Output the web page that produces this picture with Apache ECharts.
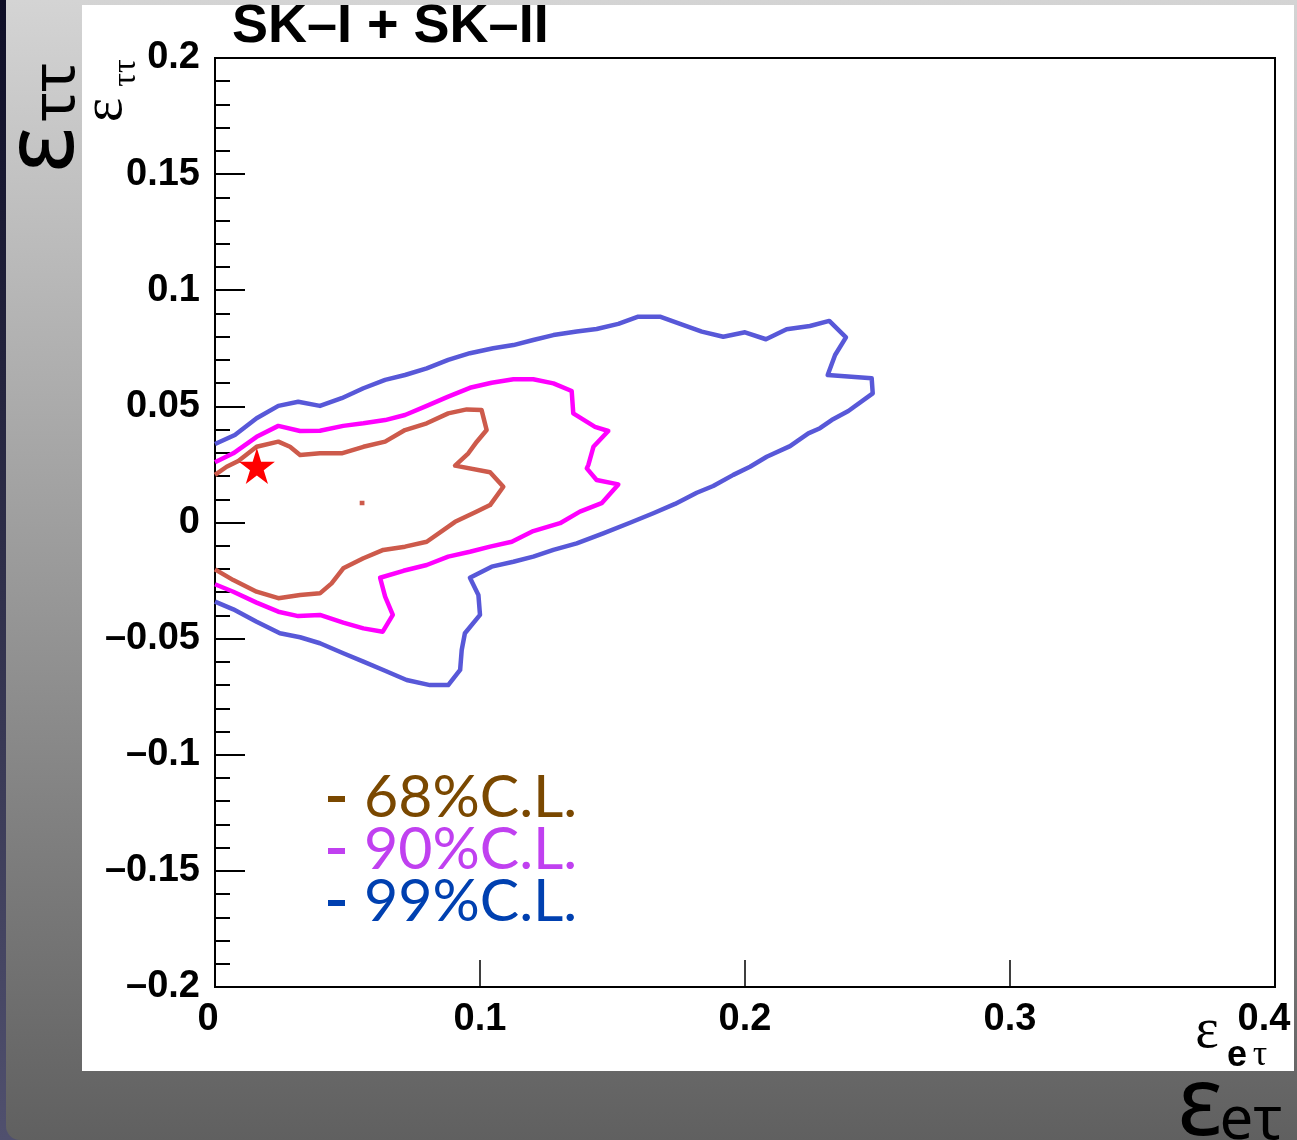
<!DOCTYPE html>
<html>
<head>
<meta charset="utf-8">
<script src="https://cdn.jsdelivr.net/npm/echarts@6/dist/echarts.min.js"></script>
<style>
  html, body { margin: 0; padding: 0; background: #fff; }
  #chart { width: 1297px; height: 1140px; }
</style>
</head>
<body>
<div id="chart"></div>
<script>
// Axis ticks and their printed labels
const xTickValues = [0, 0.1, 0.2, 0.3, 0.4];
const xTickLabels = ['0', '0.1', '0.2', '0.3', '0.4'];
const yTickValues = [-0.2, -0.15, -0.1, -0.05, 0, 0.05, 0.1, 0.15, 0.2];
const yTickLabels = ['\u20130.2', '\u20130.15', '\u20130.1', '\u20130.05', '0', '0.05', '0.1', '0.15', '0.2'];

// Allowed region in the (eps_etau, eps_tautau) plane, 99% C.L. contour
const contour99 = [
  [0.0000, 0.0338], [0.0075, 0.0377], [0.0157, 0.0449], [0.0239, 0.0502], [0.0314, 0.0520],
  [0.0396, 0.0502], [0.0478, 0.0535], [0.0560, 0.0578], [0.0642, 0.0614], [0.0717, 0.0635],
  [0.0799, 0.0664], [0.0880, 0.0700], [0.0962, 0.0729], [0.1050, 0.0750], [0.1126, 0.0764],
  [0.1201, 0.0786], [0.1277, 0.0807], [0.1365, 0.0822], [0.1440, 0.0833], [0.1522, 0.0855],
  [0.1597, 0.0886], [0.1679, 0.0886], [0.1755, 0.0855], [0.1837, 0.0822], [0.1918, 0.0800],
  [0.2000, 0.0819], [0.2079, 0.0789], [0.2157, 0.0832], [0.2245, 0.0846], [0.2318, 0.0868],
  [0.2381, 0.0797], [0.2340, 0.0721], [0.2312, 0.0635], [0.2478, 0.0621], [0.2482, 0.0556],
  [0.2390, 0.0480], [0.2327, 0.0441], [0.2283, 0.0406], [0.2239, 0.0384], [0.2170, 0.0329],
  [0.2082, 0.0283], [0.2019, 0.0240], [0.1956, 0.0205], [0.1880, 0.0157], [0.1818, 0.0128],
  [0.1736, 0.0080], [0.1654, 0.0040], [0.1566, -0.0001], [0.1465, -0.0047], [0.1365, -0.0090],
  [0.1277, -0.0118], [0.1201, -0.0147], [0.1126, -0.0169], [0.1044, -0.0190], [0.0962, -0.0238],
  [0.0994, -0.0312], [0.1000, -0.0398], [0.0943, -0.0477], [0.0931, -0.0549], [0.0925, -0.0635],
  [0.0880, -0.0700], [0.0811, -0.0700], [0.0723, -0.0678], [0.0635, -0.0635], [0.0560, -0.0599],
  [0.0484, -0.0563], [0.0396, -0.0520], [0.0321, -0.0494], [0.0245, -0.0477], [0.0157, -0.0427],
  [0.0069, -0.0374], [0.0000, -0.0341]
];

// 90% C.L. contour
const contour90 = [
  [0.0000, 0.0259], [0.0069, 0.0298], [0.0157, 0.0369], [0.0239, 0.0416], [0.0321, 0.0394],
  [0.0396, 0.0395], [0.0484, 0.0416], [0.0560, 0.0427], [0.0642, 0.0441], [0.0717, 0.0463],
  [0.0799, 0.0502], [0.0880, 0.0542], [0.0962, 0.0580], [0.1044, 0.0602], [0.1126, 0.0617],
  [0.1201, 0.0617], [0.1277, 0.0599], [0.1346, 0.0566], [0.1352, 0.0470], [0.1434, 0.0412],
  [0.1484, 0.0394], [0.1428, 0.0326], [0.1409, 0.0248], [0.1403, 0.0233], [0.1440, 0.0183],
  [0.1522, 0.0164], [0.1459, 0.0083], [0.1377, 0.0047], [0.1302, -0.0003], [0.1201, -0.0037],
  [0.1120, -0.0083], [0.1038, -0.0104], [0.0962, -0.0126], [0.0880, -0.0147], [0.0799, -0.0183],
  [0.0711, -0.0208], [0.0623, -0.0238], [0.0642, -0.0319], [0.0671, -0.0398], [0.0633, -0.0470],
  [0.0560, -0.0456], [0.0484, -0.0431], [0.0396, -0.0398], [0.0314, -0.0403], [0.0239, -0.0384],
  [0.0157, -0.0345], [0.0069, -0.0298], [0.0000, -0.0266]
];

// 68% C.L. contour
const contour68 = [
  [0.0000, 0.0205], [0.0044, 0.0240], [0.0088, 0.0265], [0.0157, 0.0326], [0.0239, 0.0348],
  [0.0283, 0.0326], [0.0321, 0.0291], [0.0396, 0.0298], [0.0478, 0.0298], [0.0560, 0.0326],
  [0.0642, 0.0348], [0.0717, 0.0398], [0.0799, 0.0427], [0.0880, 0.0470], [0.0950, 0.0487],
  [0.1006, 0.0484], [0.1025, 0.0398], [0.0988, 0.0348], [0.0956, 0.0298], [0.0906, 0.0245],
  [0.1038, 0.0216], [0.1088, 0.0154], [0.1038, 0.0075], [0.0988, 0.0047], [0.0906, 0.0003],
  [0.0799, -0.0083], [0.0717, -0.0104], [0.0635, -0.0118], [0.0560, -0.0154], [0.0484, -0.0197],
  [0.0440, -0.0262], [0.0396, -0.0305], [0.0321, -0.0312], [0.0239, -0.0326], [0.0157, -0.0298],
  [0.0069, -0.0248], [0.0000, -0.0202]
];

// Small isolated 68% island
const island68 = [[0.0546, 0.0084], [0.0564, 0.0084]];

// Best-fit point
const bestFit = [[0.0158, 0.0243]];

// Legend entries
const legendLabels = ['68%C.L.', '90%C.L.', '99%C.L.'];
const legendColors = ['#7a4800', '#c040f0', '#0040b0'];

const starPath = 'path://M50,0 L61.2,34.5 L97.6,34.5 L68.2,55.9 L79.4,90.5 L50,69.1 L20.6,90.5 L31.8,55.9 L2.4,34.5 L38.8,34.5 Z';

function labelFor(values, labels, v) {
  for (let i = 0; i < values.length; i++) {
    if (Math.abs(values[i] - v) < 1e-9) return labels[i];
  }
  return '';
}

const chart = echarts.init(document.getElementById('chart'), null, { renderer: 'canvas' });

const tickFont = { color: '#000', fontFamily: 'Liberation Sans, Arial, sans-serif', fontWeight: 'bold', fontSize: 38 };

const legendGraphics = [];
legendLabels.forEach((t, i) => {
  const y = 798 + i * 52;
  legendGraphics.push({
    type: 'rect', z: 10, silent: true,
    shape: { x: 328, y: y - 2, width: 17, height: 6 },
    style: { fill: legendColors[i] }
  });
  legendGraphics.push({
    type: 'text', x: 364, y: y, z: 10,
    style: { text: t, fill: legendColors[i], font: '59px Lato, "Noto Sans", sans-serif', verticalAlign: 'middle' }
  });
});

chart.setOption({
  animation: false,
  backgroundColor: '#ffffff',
  graphic: {
    elements: [
      { type: 'rect', z: -30, silent: true, shape: { x: 0, y: 0, width: 1297, height: 1140 },
        style: { fill: new echarts.graphic.LinearGradient(0, 0, 0, 1, [{ offset: 0, color: '#0e0e26' }, { offset: 1, color: '#50506e' }]) } },
      { type: 'rect', z: -29, silent: true, shape: { x: 6, y: 0, width: 1291, height: 1140, r: [0, 0, 0, 14] },
        style: { fill: new echarts.graphic.LinearGradient(0, 0, 0, 1, [{ offset: 0, color: '#d4d4d4' }, { offset: 1, color: '#606060' }]) } },
      { type: 'rect', z: -28, silent: true, shape: { x: 82, y: 5, width: 1212, height: 1066 }, style: { fill: '#ffffff' } },
      // title
      { type: 'text', x: 232, y: 27, z: 10,
        style: { text: 'SK\u2013I + SK\u2013II', fill: '#000', font: 'bold 54px "Liberation Sans", Arial, sans-serif', verticalAlign: 'middle' } },
      // y axis title on the frame
      { type: 'text', x: 106, y: 110, rotation: Math.PI / 2, z: 10,
        style: { text: '\u03b5', fill: '#000', font: '58px "Liberation Serif", serif', align: 'center', verticalAlign: 'middle' } },
      { type: 'text', x: 126, y: 73, rotation: Math.PI / 2, z: 10,
        style: { text: '\u03c4\u03c4', fill: '#000', font: '34px "Liberation Serif", serif', align: 'center', verticalAlign: 'middle' } },
      // x axis title on the frame
      { type: 'text', x: 1207, y: 1032, z: 10,
        style: { text: '\u03b5', fill: '#000', font: '56px "Liberation Serif", serif', align: 'center', verticalAlign: 'middle' } },
      { type: 'text', x: 1237, y: 1056, z: 10,
        style: { text: 'e', fill: '#000', font: 'bold 36px "Liberation Sans", Arial, sans-serif', align: 'center', verticalAlign: 'middle' } },
      { type: 'text', x: 1260, y: 1056, z: 10,
        style: { text: '\u03c4', fill: '#000', font: '36px "Liberation Serif", serif', align: 'center', verticalAlign: 'middle' } },
      // large labels on the slide background
      { type: 'text', x: 45, y: 150, rotation: Math.PI / 2, z: 10,
        style: { text: '\u03b5', fill: '#000', font: '98px "Noto Sans", sans-serif', align: 'center', verticalAlign: 'middle' } },
      { type: 'text', x: 57, y: 92, rotation: Math.PI / 2, z: 10,
        style: { text: '\u03c4\u03c4', fill: '#000', font: '60px "Noto Sans", sans-serif', align: 'center', verticalAlign: 'middle' } },
      { type: 'text', x: 1200, y: 1108, z: 10,
        style: { text: '\u03b5', fill: '#000', font: '96px "Noto Sans", sans-serif', align: 'center', verticalAlign: 'middle' } },
      { type: 'text', x: 1251, y: 1122, z: 10,
        style: { text: 'e\u03c4', fill: '#000', font: '60px "Noto Sans", sans-serif', align: 'center', verticalAlign: 'middle' } }
    ].concat(legendGraphics)
  },
  grid: {
    left: 215, right: 22, top: 58, bottom: 153,
    show: true, borderColor: '#000', borderWidth: 2, backgroundColor: 'transparent',
    outerBoundsMode: 'none', containLabel: false
  },
  xAxis: {
    type: 'value', min: 0, max: 0.4, interval: 0.1,
    axisLine: { show: true, onZero: false, lineStyle: { color: '#000', width: 2 } },
    axisTick: { show: true, inside: true, length: 27, lineStyle: { color: '#000', width: 1.5 } },
    minorTick: { show: false },
    splitLine: { show: false },
    axisLabel: Object.assign({
      margin: 14, showMinLabel: true, showMaxLabel: true,
      formatter: v => {
        const s = labelFor(xTickValues, xTickLabels, v);
        if (v === xTickValues[0]) return '{first|' + s + '}';
        if (v === xTickValues[xTickValues.length - 1]) return '{last|' + s + '}';
        return s;
      },
      rich: {
        first: Object.assign({ padding: [0, 14, 0, 0] }, tickFont),
        last: Object.assign({ padding: [0, 22, 0, 0] }, tickFont)
      }
    }, tickFont)
  },
  yAxis: {
    type: 'value', min: -0.2, max: 0.2, interval: 0.05,
    axisLine: { show: true, onZero: false, lineStyle: { color: '#000', width: 2 } },
    axisTick: { show: true, inside: true, length: 30, lineStyle: { color: '#000', width: 2 } },
    minorTick: { show: true, splitNumber: 5, length: 15, lineStyle: { color: '#000', width: 2 } },
    splitLine: { show: false },
    axisLabel: Object.assign({ margin: 15, showMinLabel: true, showMaxLabel: true,
      formatter: v => labelFor(yTickValues, yTickLabels, v) }, tickFont)
  },
  series: [
    { name: '99%', type: 'line', data: contour99, symbol: 'none', smooth: false, z: 3,
      lineStyle: { color: '#5858d8', width: 4.5, join: 'round' } },
    { name: '90%', type: 'line', data: contour90, symbol: 'none', smooth: false, z: 3,
      lineStyle: { color: '#ff00ff', width: 4.5, join: 'round' } },
    { name: '68%', type: 'line', data: contour68, symbol: 'none', smooth: false, z: 3,
      lineStyle: { color: '#cd5a4b', width: 4.5, join: 'round' } },
    { name: '68% island', type: 'line', data: island68, symbol: 'none', z: 3,
      lineStyle: { color: '#cd5a4b', width: 4.5 } },
    { name: 'best fit', type: 'scatter', data: bestFit, symbol: starPath, symbolSize: 36, z: 4,
      itemStyle: { color: '#ff0000', opacity: 1 } }
  ]
});
</script>
</body>
</html>
